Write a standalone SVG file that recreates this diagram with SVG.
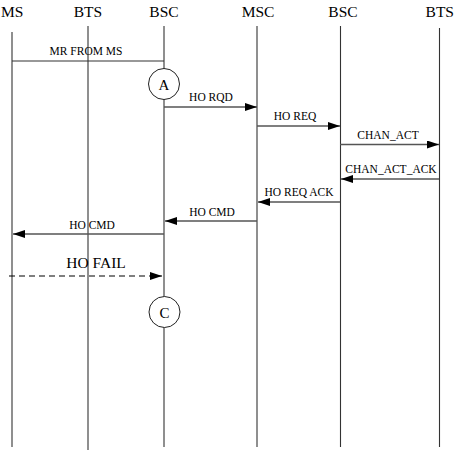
<svg xmlns="http://www.w3.org/2000/svg" width="456" height="451" viewBox="0 0 456 451">
<style>
text{font-family:"Liberation Serif","Times New Roman",serif;fill:#000}
.t{font-size:15.5px}
.m{font-size:11.5px;text-anchor:middle}
.life{stroke:#333;stroke-width:1.1;fill:none}
.msg{stroke:#555;stroke-width:1.5;fill:none}
.circ{fill:#fff;stroke:#222;stroke-width:1}
</style>
<defs>
<marker id="ah" markerWidth="12" markerHeight="8" refX="12" refY="4" orient="auto" markerUnits="userSpaceOnUse">
<path d="M0,0 L12,4 L0,8 Z" fill="#000"/>
</marker>
</defs>
<g id="lifelines">
<g id="MS"><text class="t" x="1" y="17">MS</text><line class="life" x1="12" y1="32" x2="12" y2="447"/></g>
<g id="BTS1"><text class="t" x="88" y="17" text-anchor="middle">BTS</text><line class="life" x1="88" y1="26" x2="88" y2="450"/></g>
<g id="BSC1"><text class="t" x="164" y="17" text-anchor="middle">BSC</text><line class="life" x1="164" y1="26" x2="164" y2="447"/></g>
<g id="MSC"><text class="t" x="258" y="17" text-anchor="middle">MSC</text><line class="life" x1="257" y1="26" x2="257" y2="447"/></g>
<g id="BSC2"><text class="t" x="343" y="17" text-anchor="middle">BSC</text><line class="life" x1="340.5" y1="26" x2="340.5" y2="447"/></g>
<g id="BTS2"><text class="t" x="454" y="17" text-anchor="end">BTS</text><line class="life" x1="439.5" y1="28" x2="439.5" y2="447"/></g>
</g>
<g id="A"><circle class="circ" cx="164" cy="84" r="15.5"/><text x="164" y="89.5" font-size="15" text-anchor="middle">A</text></g>
<g id="C"><circle class="circ" cx="164.5" cy="312" r="15.5"/><text x="164.5" y="317.5" font-size="15" text-anchor="middle">C</text></g>
<g id="connectors">
<line x1="12" y1="61" x2="164" y2="61" stroke="#333" stroke-width="1.1"/>
<text class="m" x="86" y="55">MR FROM MS</text>
<line class="msg" x1="164" y1="107" x2="257" y2="107" marker-end="url(#ah)"/>
<text class="m" x="211" y="101">HO RQD</text>
<line class="msg" x1="257" y1="126" x2="340" y2="126" marker-end="url(#ah)"/>
<text class="m" x="295" y="120">HO REQ</text>
<line class="msg" x1="340" y1="144.5" x2="439" y2="144.5" marker-end="url(#ah)"/>
<text class="m" x="388" y="138.5">CHAN_ACT</text>
<line class="msg" x1="439" y1="179" x2="341" y2="179" marker-end="url(#ah)"/>
<text class="m" x="391" y="173">CHAN_ACT_ACK</text>
<line class="msg" x1="340" y1="202" x2="258" y2="202" marker-end="url(#ah)"/>
<text class="m" x="299" y="196">HO REQ ACK</text>
<line class="msg" x1="257" y1="221" x2="165" y2="221" marker-end="url(#ah)"/>
<text class="m" x="212" y="215.5">HO CMD</text>
<line class="msg" x1="164" y1="234" x2="13" y2="234" marker-end="url(#ah)"/>
<text class="m" x="92" y="229">HO CMD</text>
<line x1="9" y1="276" x2="162" y2="276" stroke="#000" stroke-width="1.1" stroke-dasharray="6,4" marker-end="url(#ah)"/>
<text x="96" y="267.5" font-size="15.5" text-anchor="middle">HO FAIL</text>
</g>
</svg>
